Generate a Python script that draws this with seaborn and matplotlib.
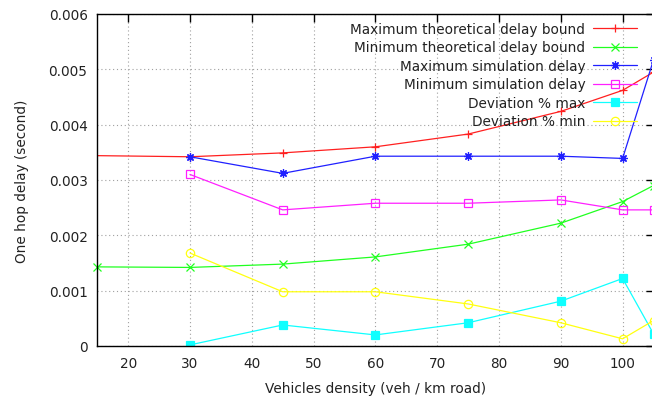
import matplotlib
matplotlib.use("Agg")
import matplotlib.pyplot as plt
from matplotlib.ticker import FixedLocator
import seaborn as sns

### Data
density_theory = [15, 30, 45, 60, 75, 90, 100, 105]
density_sim = [30, 45, 60, 75, 90, 100, 105]

max_theory = [0.00344, 0.00342, 0.00349, 0.00360, 0.00383, 0.00424, 0.00462, 0.00495]
min_theory = [0.00143, 0.00142, 0.00148, 0.00161, 0.00184, 0.00222, 0.00261, 0.00290]
max_sim = [0.00342, 0.00312, 0.00343, 0.00343, 0.00343, 0.00339, 0.00517]
min_sim = [0.00310, 0.00246, 0.00258, 0.00258, 0.00264, 0.00246, 0.00246]
dev_max = [0.00002, 0.00038, 0.00020, 0.00042, 0.00081, 0.00122, 0.00022]
dev_min = [0.00168, 0.00098, 0.00098, 0.00076, 0.00042, 0.00013, 0.00046]

x_ticks = [20, 30, 40, 50, 60, 70, 80, 90, 100]
y_ticks = [0, 0.001, 0.002, 0.003, 0.004, 0.005, 0.006]
y_tick_labels = ["0", "0.001", "0.002", "0.003", "0.004", "0.005", "0.006"]

### Figure
sns.set_style("white")
plt.rcParams["font.family"] = ["DejaVu Sans"]

fig = plt.figure(figsize=(6.52, 4.02), dpi=100)
ax = fig.add_axes([97.3 / 652, 1 - 347 / 402, (653.5 - 97.3) / 652, (347 - 15) / 402])

series = [
    (density_theory, max_theory, "Maximum theoretical delay bound", "#ff2020", "+", True),
    (density_theory, min_theory, "Minimum theoretical delay bound", "#20ff20", "x", True),
    (density_sim, max_sim, "Maximum simulation delay", "#2020ff", (8, 2, 0), True),
    (density_sim, min_sim, "Minimum simulation delay", "#ff20ff", "s", False),
    (density_sim, dev_max, "Deviation % max", "#10ffff", "s", True),
    (density_sim, dev_min, "Deviation % min", "#ffff10", "o", False),
]

for x, y, label, color, marker, filled in series:
    # no '+' drawn on the left border for the red curve
    every = list(range(1, len(x))) if marker == "+" else None
    sns.lineplot(
        x=x, y=y, ax=ax, label=label, color=color, linewidth=0.9,
        marker=marker, markersize=6, markevery=every,
        markeredgecolor=color, markeredgewidth=0.9,
        markerfacecolor=color if filled else "none",
        clip_on=False if marker not in ("s", "+") else True,
    )

ax.set_xlim(15, 105)
ax.set_ylim(0, 0.006)
ax.xaxis.set_major_locator(FixedLocator(x_ticks))
ax.set_yticks(y_ticks)
ax.set_yticklabels(y_tick_labels)

ax.grid(True, color="#a0a0a0", linestyle=(0, (1, 2.5)), linewidth=0.8)
ax.tick_params(direction="in", length=6, width=1, color="black",
               top=True, right=True, labelsize=9.8, labelcolor="#222222", pad=7)
for s in ax.spines.values():
    s.set_color("black")
    s.set_linewidth(1)

ax.set_xlabel("Vehicles density (veh / km road)", fontsize=9.8, color="#222222", labelpad=8)
ax.set_ylabel("One hop delay (second)", fontsize=9.8, color="#222222", labelpad=14)

leg = ax.legend(
    loc="upper right", bbox_to_anchor=(637 / 652, 1 - 23 / 402),
    bbox_transform=fig.transFigure, frameon=False, markerfirst=False,
    fontsize=9.8, labelspacing=0.33, handlelength=3.2, handletextpad=0.6,
    borderpad=0, borderaxespad=0,
)
for t in leg.get_texts():
    t.set_color("#222222")
# right-align the entries like gnuplot does
for col in leg._legend_box.get_children()[1].get_children():
    col.align = "right"

fig.savefig("out.png", dpi=100)
